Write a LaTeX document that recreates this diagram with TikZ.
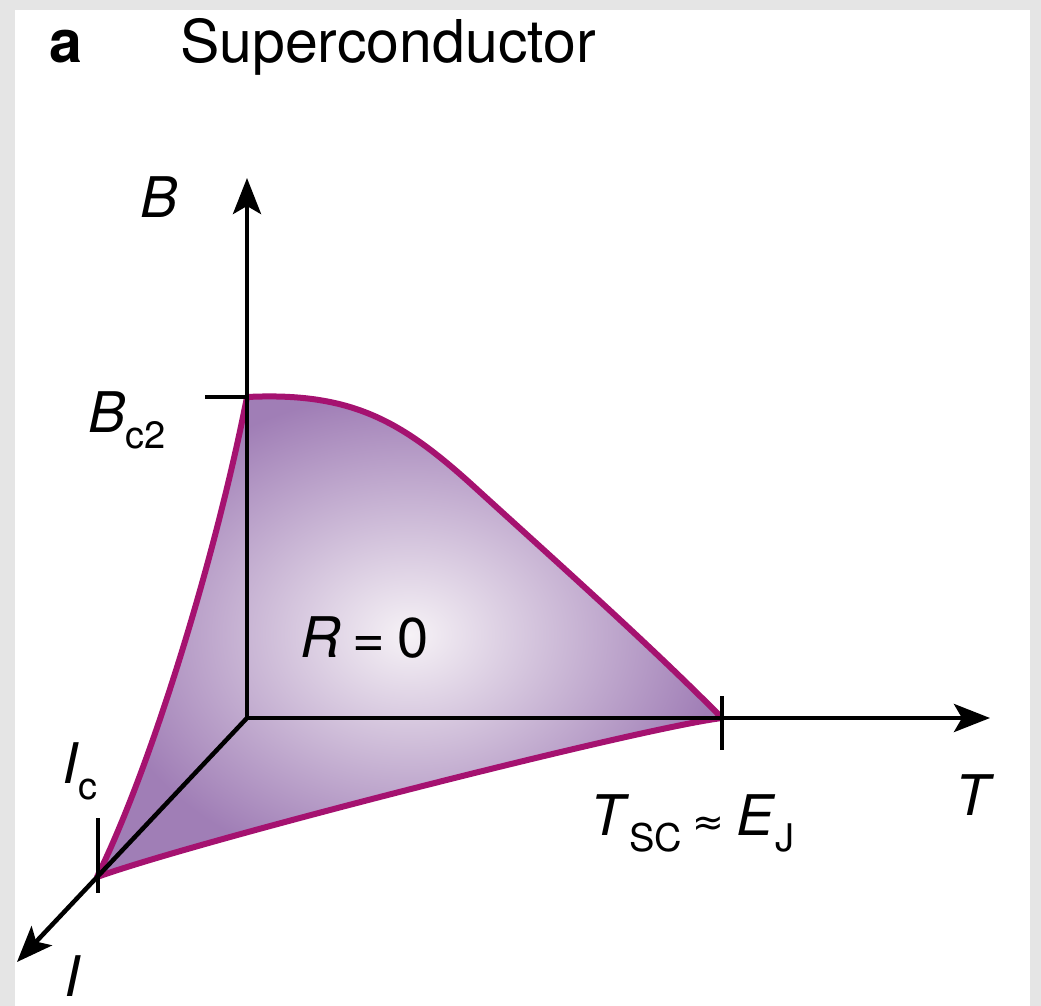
\documentclass[tikz,border=0pt]{standalone}
\usepackage{fontspec}
\setmainfont{TeX Gyre Heros}
\newfontfamily\symfont{DejaVu Sans}
\usepackage{graphicx}
\usetikzlibrary{arrows.meta}
\definecolor{framegray}{RGB}{229,229,229}
\definecolor{edgepink}{RGB}{165,18,112}
\definecolor{phaseout}{RGB}{160,126,182}
\definecolor{phasein}{RGB}{246,242,246}
\newcommand{\lowsub}[1]{\raisebox{-0.3em}{\scalebox{0.68}{#1}}}

\begin{document}
\begin{tikzpicture}[x=1pt, y=-1pt,
        axis/.style={line width=4.5pt, black, -{Stealth[length=36pt, width=28pt, inset=8pt]}},
        tick/.style={line width=4.5pt, black},
        edge/.style={line width=6pt, edgepink, line join=round},
        lbl/.style={font=\fontsize{56}{60}\selectfont, inner sep=0pt, anchor=base west}
    ]
    \useasboundingbox (0,0) rectangle (1041,1006);
    \fill[framegray] (0,0) rectangle (1041,1006);
    \fill[white] (15,10) rectangle (1030,1006);

    % Axes end points
    \coordinate (O) at (247,718);
    \coordinate (Btip) at (247,178);
    \coordinate (Ttip) at (990,718);
    \coordinate (Itip) at (17,962);
    \coordinate (Bc) at (247,397);
    \coordinate (Tc) at (722,718);
    \coordinate (Ic) at (97,877);

    % Phase surface R = 0
    \shade[inner color=phasein, outer color=phaseout]
        (Bc) .. controls (350,392) and (400,420) .. (470,483)
        .. controls (560,565) and (650,645) .. (Tc)
        .. controls (640,728) and (200,840) .. (Ic)
        .. controls (150,770) and (215,560) .. (Bc) -- cycle;
    \draw[edge]
        (Bc) .. controls (350,392) and (400,420) .. (470,483)
        .. controls (560,565) and (650,645) .. (Tc)
        .. controls (640,728) and (200,840) .. (Ic)
        .. controls (150,770) and (215,560) .. (Bc) -- cycle;

    % Axes
    \draw[axis] (O) -- (Btip);
    \draw[axis] (O) -- (Ttip);
    \draw[axis] (O) -- (Itip);

    % Ticks
    \draw[tick] (Bc) -- ++(-42,0);
    \draw[tick] (722,696) -- (722,750);
    \draw[tick] (98,818) -- (98,893);

    % Labels
    \node[lbl, font=\fontsize{59}{62}\selectfont\bfseries] (panel) at (49,63) {a};
    \node[lbl, font=\fontsize{59}{62}\selectfont] (title) at (180,63) {Superconductor};
    \node[lbl] (Blbl) at (140,217) {\textit{B}};
    \node[lbl] (Bclbl) at (88,432) {\textit{B}\lowsub{c2}};
    \node[lbl] (Rlbl) at (300,657) {\textit{R}\hspace{12pt}=\hspace{12pt}0};
    \node[lbl] (Iclbl) at (62,783) {\textit{I}\lowsub{c}};
    \node[lbl] (Ilbl) at (64,996) {\textit{I}};
    \node[lbl] (Tlbl) at (955,815) {\textit{T}};
    \node[lbl] (Tclbl) at (590,835) {\textit{T}\lowsub{SC}\hspace{10pt}{\symfont\fontsize{38}{40}\selectfont ≈}\hspace{12pt}\textit{E}\lowsub{J}};
\end{tikzpicture}
\end{document}
